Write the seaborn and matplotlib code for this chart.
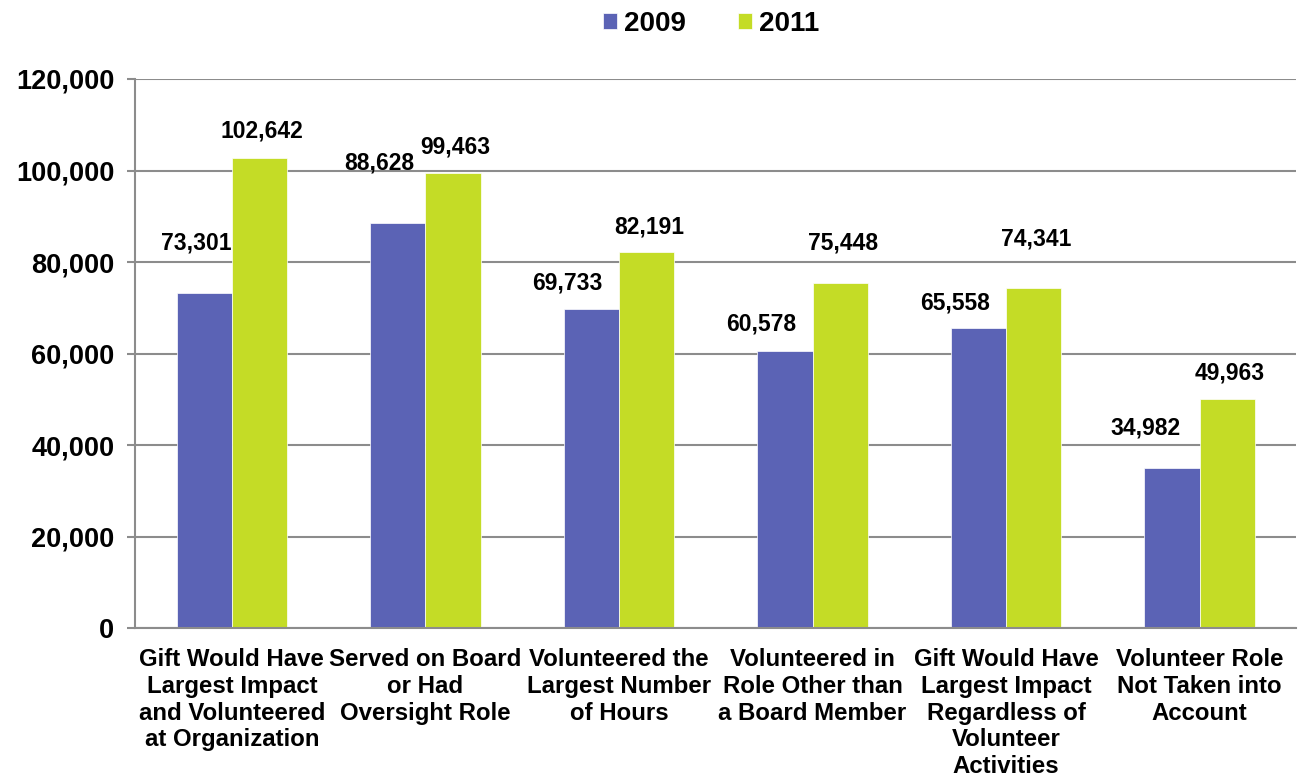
import matplotlib
matplotlib.use("Agg")
import matplotlib.pyplot as plt
import pandas as pd
import seaborn as sns

categories = [
    "Gift Would Have\nLargest Impact\nand Volunteered\nat Organization",
    "Served on Board\nor Had\nOversight Role",
    "Volunteered the\nLargest Number\nof Hours",
    "Volunteered in\nRole Other than\na Board Member",
    "Gift Would Have\nLargest Impact\nRegardless of\nVolunteer\nActivities",
    "Volunteer Role\nNot Taken into\nAccount",
]
years = ["2009", "2011"]
values_2009 = [73301, 88628, 69733, 60578, 65558, 34982]
values_2011 = [102642, 99463, 82191, 75448, 74341, 49963]
colors = ["#5B63B5", "#C4DC26"]

# label nudges (points) roughly as placed in the original
dx_2009 = [-6, -13, -17, -17, -17, -19]
dy_2009 = [36, 43, 19, 19, 18, 29]
dy_2011 = [20, 19, 18, 29, 35, 19]

df = pd.DataFrame({
    "category": categories * 2,
    "year": [years[0]] * 6 + [years[1]] * 6,
    "value": values_2009 + values_2011,
})

sns.set_style("white")
plt.rcParams["font.family"] = ["Liberation Sans", "DejaVu Sans"]
plt.rcParams["font.weight"] = "bold"
plt.rcParams["text.color"] = "black"
plt.rcParams["xtick.color"] = "black"
plt.rcParams["ytick.color"] = "black"

fig = plt.figure(figsize=(12.99, 7.76), dpi=100)
ax = fig.add_axes([0.104, 0.1907, 0.894, 0.7075])

sns.barplot(data=df, x="category", y="value", hue="year", palette=colors,
            width=0.57, saturation=1, ax=ax, edgecolor="white", linewidth=0.5)

ax.set_ylim(0, 120000)
ax.set_yticks(range(0, 120001, 20000))
ax.yaxis.set_major_formatter(matplotlib.ticker.FuncFormatter(lambda v, p: f"{int(v):,}"))
ax.grid(axis="y", color="#8c8c8c", linewidth=1.5)
ax.set_axisbelow(True)
for s in ["top", "right"]:
    ax.spines[s].set_visible(False)
for s in ["left", "bottom"]:
    ax.spines[s].set_color("#8c8c8c")
    ax.spines[s].set_linewidth(1.5)
ax.tick_params(axis="y", left=True, length=6, width=1.5, color="#8c8c8c",
               labelcolor="black", labelsize=19.5, pad=9)
ax.tick_params(axis="x", bottom=False, labelcolor="black", labelsize=17.3, pad=11)
for lab in ax.get_xticklabels():
    lab.set_fontweight("bold")
    lab.set_linespacing(1.21)
for lab in ax.get_yticklabels():
    lab.set_fontweight("bold")
ax.set_xlabel("")
ax.set_ylabel("")
ax.set_xlim(-0.5, 5.5)

bars_2009, bars_2011 = ax.containers[0], ax.containers[1]
for i, bar in enumerate(bars_2009):
    ax.annotate(f"{values_2009[i]:,}", (bar.get_x() + bar.get_width() / 2, bar.get_height()),
                xytext=(dx_2009[i], dy_2009[i]), textcoords="offset points",
                ha="center", va="center", fontsize=16.5, fontweight="bold")
for i, bar in enumerate(bars_2011):
    ax.annotate(f"{values_2011[i]:,}", (bar.get_x() + bar.get_width() / 2, bar.get_height()),
                xytext=(2, dy_2011[i]), textcoords="offset points",
                ha="center", va="center", fontsize=16.5, fontweight="bold")

handles, labels = ax.get_legend_handles_labels()
ax.legend(handles, labels, loc="center", bbox_to_anchor=(0.496, 1.1), ncol=2,
          frameon=False, handlelength=0.5, handleheight=0.5, handletextpad=0.25,
          columnspacing=1.9, prop={"size": 20, "weight": "bold"})

fig.savefig("out.png", dpi=100)
